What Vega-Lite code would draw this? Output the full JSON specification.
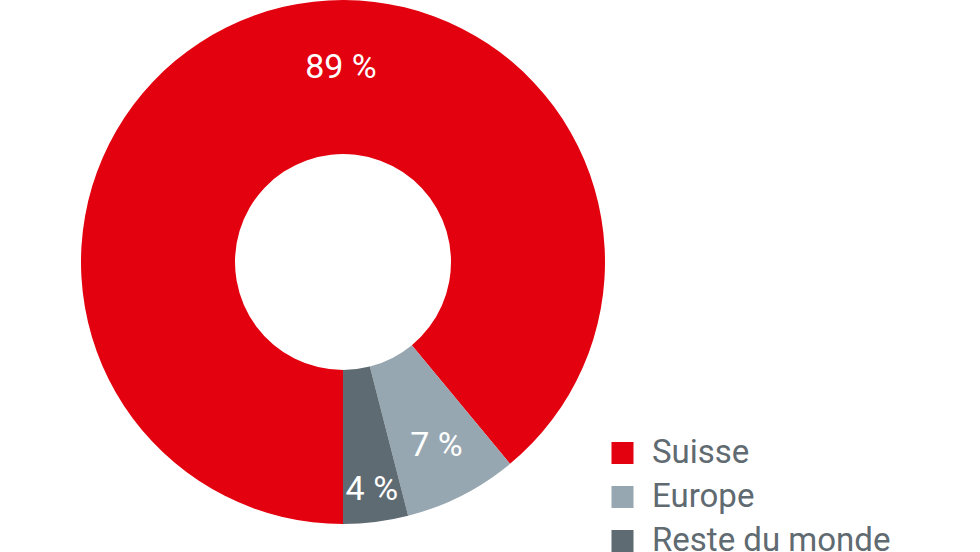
{
  "$schema": "https://vega.github.io/schema/vega-lite/v6.json",
  "width": 686,
  "height": 524,
  "padding": 0,
  "background": "white",
  "data": {
    "values": [
      {"region": "Suisse", "value": 89, "label": "89 %"},
      {"region": "Europe", "value": 7, "label": "7 %"},
      {"region": "Reste du monde", "value": 4, "label": "4 %"}
    ]
  },
  "encoding": {
    "theta": {"field": "value", "type": "quantitative", "stack": true, "scale": {"range": [3.141592653589793, 9.42477796076938]}},
    "order": {"field": "value", "type": "quantitative", "sort": "descending"},
    "color": {
      "field": "region",
      "type": "nominal",
      "sort": ["Suisse", "Europe", "Reste du monde"],
      "scale": {"domain": ["Suisse", "Europe", "Reste du monde"], "range": ["#e3000f", "#97a7b1", "#5f6b73"]},
      "legend": {
        "title": null,
        "orient": "none",
        "legendX": 606,
        "legendY": 437,
        "direction": "vertical",
        "symbolType": "square",
        "symbolSize": 484,
        "symbolStrokeWidth": 0,
        "symbolOpacity": 1,
        "labelFontSize": 33,
        "labelFont": "Roboto",
        "labelColor": "#5f6a71",
        "labelOffset": 13,
        "rowPadding": 11,
        "clipHeight": 32,
        "padding": 0,
        "labelLimit": 400
      }
    }
  },
  "layer": [
    {"mark": {"type": "arc", "outerRadius": 262, "innerRadius": 108, "stroke": null}},
    {
      "mark": {"type": "text", "radius": 194, "thetaOffset": 0.335, "fontSize": 34, "font": "Roboto", "fill": "white"},
      "encoding": {"text": {"condition": {"test": "datum.region === 'Suisse'", "field": "label"}, "value": ""}, "color": {"value": "white"}}
    },
    {
      "mark": {"type": "text", "radius": 206, "fontSize": 34, "font": "Roboto", "fill": "white"},
      "encoding": {"text": {"condition": {"test": "datum.region === 'Europe'", "field": "label"}, "value": ""}, "color": {"value": "white"}}
    },
    {
      "mark": {"type": "text", "radius": 230, "fontSize": 34, "font": "Roboto", "fill": "white"},
      "encoding": {"text": {"condition": {"test": "datum.region === 'Reste du monde'", "field": "label"}, "value": ""}, "color": {"value": "white"}}
    }
  ]
}
